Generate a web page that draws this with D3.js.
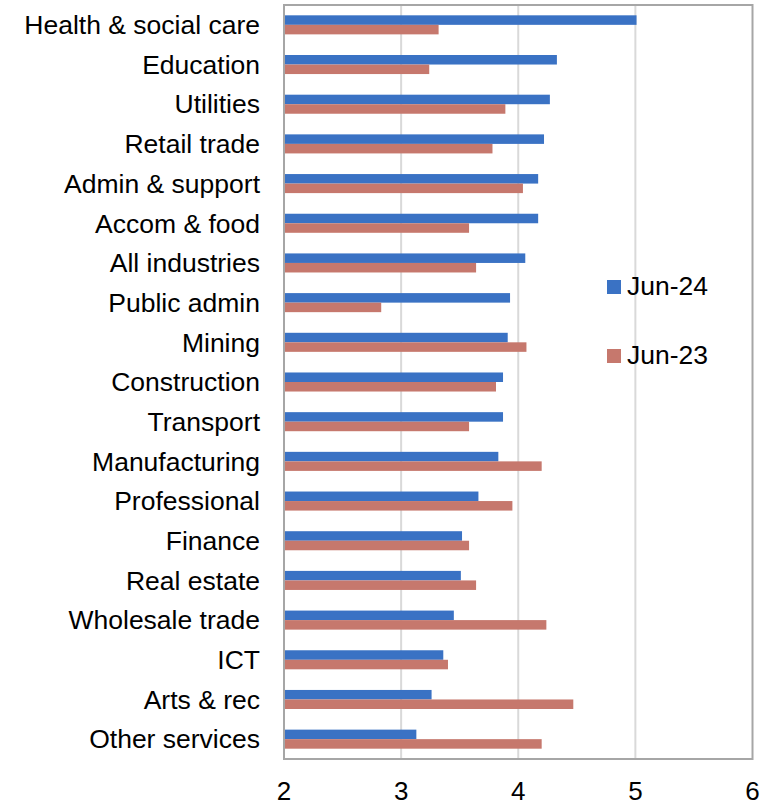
<!DOCTYPE html>
<html>
<head>
<meta charset="utf-8">
<script src="https://cdn.jsdelivr.net/npm/d3@7"></script>
<style>
  html, body { margin: 0; padding: 0; background: #fff; }
  svg { display: block; font-family: "Liberation Sans", Arial, sans-serif; }
</style>
</head>
<body>
<svg id="chart" width="775" height="805"></svg>
<script>
// Industries, listed top to bottom
const categories = [
  "Health & social care", "Education", "Utilities", "Retail trade",
  "Admin & support", "Accom & food", "All industries", "Public admin",
  "Mining", "Construction", "Transport", "Manufacturing", "Professional",
  "Finance", "Real estate", "Wholesale trade", "ICT", "Arts & rec",
  "Other services"
];
const seriesNames = ["Jun-24", "Jun-23"];
const jun24 = [5.01, 4.33, 4.27, 4.22, 4.17, 4.17, 4.06, 3.93, 3.91, 3.87,
               3.87, 3.83, 3.66, 3.52, 3.51, 3.45, 3.36, 3.26, 3.13];
const jun23 = [3.32, 3.24, 3.89, 3.78, 4.04, 3.58, 3.64, 2.83, 4.07, 3.81,
               3.58, 4.20, 3.95, 3.58, 3.64, 4.24, 3.40, 4.47, 4.20];
const xTicks = [2, 3, 4, 5, 6];
const colors = ["#3A72C4", "#C6786D"];

const rows = categories.map((c, i) => ({ cat: c, values: [jun24[i], jun23[i]] }));

const svg = d3.select("#chart");
const plot = { left: 284, right: 752.5, top: 5, bottom: 759 };

const x = d3.scaleLinear().domain([2, 6]).range([plot.left, plot.right]);
const y = d3.scaleBand().domain(categories).range([plot.top, plot.bottom])
  .paddingInner(0.52).paddingOuter(0.26);
const ySub = d3.scaleBand().domain(seriesNames).range([0, y.bandwidth()]);

// vertical gridlines
svg.append("g")
  .selectAll("line")
  .data(xTicks.slice(1, -1))
  .join("line")
  .attr("x1", d => x(d)).attr("x2", d => x(d))
  .attr("y1", plot.top).attr("y2", plot.bottom)
  .attr("stroke", "#d9d9d9").attr("stroke-width", 2);

// bars
const groups = svg.append("g")
  .selectAll("g")
  .data(rows)
  .join("g")
  .attr("transform", d => `translate(0,${y(d.cat)})`);

groups.selectAll("rect")
  .data(d => d.values.map((v, i) => ({ v, i })))
  .join("rect")
  .attr("x", x(2))
  .attr("y", d => ySub(seriesNames[d.i]))
  .attr("width", d => x(d.v) - x(2))
  .attr("height", ySub.bandwidth())
  .attr("fill", d => colors[d.i]);

// plot frame
svg.append("rect")
  .attr("x", plot.left).attr("y", plot.top)
  .attr("width", plot.right - plot.left).attr("height", plot.bottom - plot.top)
  .attr("fill", "none").attr("stroke", "#a6a6a6").attr("stroke-width", 2);

// category labels
svg.append("g")
  .selectAll("text")
  .data(categories)
  .join("text")
  .attr("x", 260)
  .attr("y", d => y(d) + y.bandwidth() / 2)
  .attr("dy", "0.35em")
  .attr("text-anchor", "end")
  .attr("font-size", 26.5)
  .attr("fill", "#000")
  .text(d => d);

// x tick labels
svg.append("g")
  .selectAll("text")
  .data(xTicks)
  .join("text")
  .attr("x", d => x(d))
  .attr("y", 800)
  .attr("text-anchor", "middle")
  .attr("font-size", 26)
  .attr("fill", "#000")
  .text(d => d);

// legend
const legend = svg.append("g")
  .selectAll("g")
  .data(seriesNames)
  .join("g")
  .attr("transform", (d, i) => `translate(607,${280 + i * 69})`);
legend.append("rect")
  .attr("width", 14).attr("height", 14)
  .attr("fill", (d, i) => colors[i]);
legend.append("text")
  .attr("x", 20).attr("y", 15)
  .attr("font-size", 26.5)
  .attr("fill", "#000")
  .text(d => d);
</script>
</body>
</html>
